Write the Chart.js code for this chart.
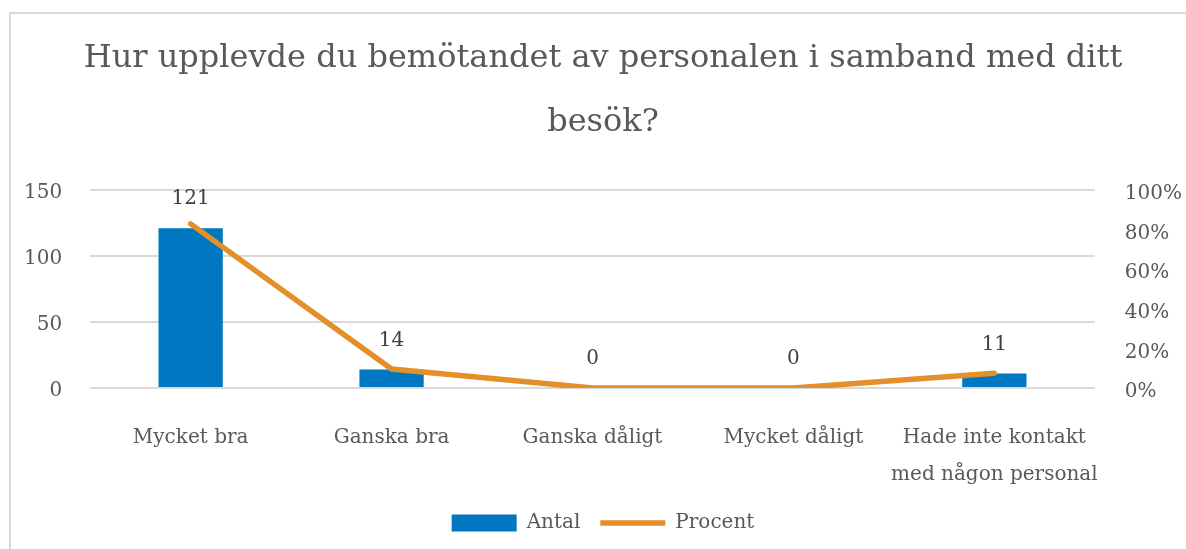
<!DOCTYPE html>
<html>
<head>
<meta charset="utf-8">
<script src="https://cdn.jsdelivr.net/npm/chart.js@4/dist/chart.umd.min.js"></script>
<style>
html, body { margin: 0; padding: 0; background: #fff; }
#wrap { position: relative; width: 1186px; height: 549px; overflow: hidden; }
#frame { position: absolute; left: 9px; top: 12px; width: 1300px; height: 700px; border: 2px solid #d9d9d9; pointer-events: none; }
canvas { position: absolute; left: 0; top: 0; }
</style>
</head>
<body>
<div id="wrap">
  <canvas id="chart" width="1186" height="549"></canvas>
  <div id="frame"></div>
</div>
<script>
const titleLines = ['Hur upplevde du bemötandet av personalen i samband med ditt', 'besök?'];
const categories = ['Mycket bra', 'Ganska bra', 'Ganska dåligt', 'Mycket dåligt', ['Hade inte kontakt', 'med någon personal']];
const antal = [121, 14, 0, 0, 11];
const procent = [0.829, 0.096, 0, 0, 0.075];
const countTicks = [0, 50, 100, 150];
const percentTicks = [0, 0.2, 0.4, 0.6, 0.8, 1];

const FONT = "'DejaVu Serif', 'Liberation Serif', serif";
const blue = '#0078c1';
const orange = '#e38f2a';
const textGray = '#595959';

// labels above the bars
const barLabels = {
    id: 'barLabels',
    afterDatasetsDraw(chart) {
        const meta = chart.getDatasetMeta(0);
        const ctx = chart.ctx;
        ctx.save();
        ctx.font = '20px ' + FONT;
        ctx.fillStyle = '#404040';
        ctx.textAlign = 'center';
        ctx.textBaseline = 'middle';
        meta.data.forEach((bar, i) => {
            ctx.fillText(String(antal[i]), bar.x, bar.y - 29);
        });
        ctx.restore();
    }
};

// chart.js reserves the tick padding twice on vertical axes, take one back
const trimAxis = (s) => { s.width -= s.options.ticks.padding; };

new Chart(document.getElementById('chart'), {
    data: {
        labels: categories,
        datasets: [
            {
                type: 'bar',
                label: 'Antal',
                data: antal,
                backgroundColor: blue,
                yAxisID: 'y',
                order: 1,
                barPercentage: 0.32,
                categoryPercentage: 1,
            },
            {
                type: 'line',
                label: 'Procent',
                data: procent,
                borderColor: orange,
                backgroundColor: orange,
                borderWidth: 5.5,
                borderCapStyle: 'round',
                pointRadius: 0,
                tension: 0,
                yAxisID: 'y1',
                order: 0,
            },
        ],
    },
    options: {
        responsive: false,
        animation: false,
        layout: { padding: { left: 24, right: 4, top: 0, bottom: 6 } },
        plugins: {
            title: {
                display: true,
                text: titleLines,
                color: textGray,
                font: { family: FONT, size: 32, weight: 'normal', lineHeight: 2 },
                padding: { top: 27, bottom: 35 },
            },
            legend: {
                position: 'bottom',
                labels: {
                    color: textGray,
                    font: { family: FONT, size: 20 },
                    usePointStyle: true,
                    pointStyleWidth: 65,
                    boxHeight: 17,
                    padding: 20,
                    sort: (a, b) => a.datasetIndex - b.datasetIndex,
                    generateLabels(chart) {
                        const items = Chart.defaults.plugins.legend.labels.generateLabels(chart);
                        items.forEach((it) => {
                            it.pointStyle = it.datasetIndex === 0 ? 'rect' : 'line';
                            if (it.datasetIndex === 1) { it.lineWidth = 5.5; it.strokeStyle = orange; }
                            else { it.lineWidth = 0; }
                        });
                        return items;
                    },
                },
            },
            tooltip: { enabled: false },
        },
        scales: {
            x: {
                grid: { display: true, drawOnChartArea: false, drawTicks: true, tickLength: 28, tickColor: 'rgba(0,0,0,0)' },
                border: { display: false },
                ticks: {
                    color: textGray,
                    font: { family: FONT, size: 20, lineHeight: 1.85 },
                    padding: 3,
                    maxRotation: 0,
                    autoSkip: false,
                },
                afterFit: (s) => { s.height = 105; },
            },
            y: {
                position: 'left',
                min: 0,
                max: 150,
                afterBuildTicks: (axis) => { axis.ticks = countTicks.map((v) => ({ value: v })); },
                afterFit: trimAxis,
                grid: { color: '#d9d9d9', lineWidth: 2, drawTicks: false },
                border: { display: false },
                ticks: {
                    color: textGray,
                    font: { family: FONT, size: 20 },
                    padding: 28,
                    labelOffset: 3,
                },
            },
            y1: {
                position: 'right',
                min: 0,
                max: 1,
                afterBuildTicks: (axis) => { axis.ticks = percentTicks.map((v) => ({ value: v })); },
                afterFit: trimAxis,
                grid: { display: false, drawTicks: false },
                border: { display: false },
                ticks: {
                    color: textGray,
                    font: { family: FONT, size: 20 },
                    padding: 30,
                    labelOffset: 4,
                    callback: (v) => Math.round(v * 100) + '%',
                },
            },
        },
    },
    plugins: [barLabels],
});
</script>
</body>
</html>
